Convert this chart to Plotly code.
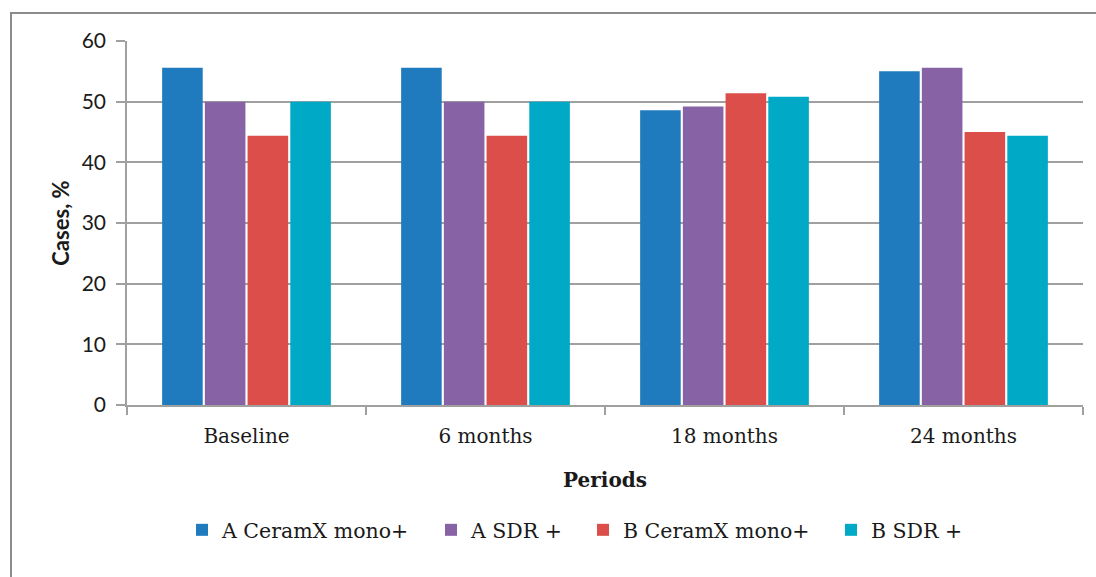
import plotly.graph_objects as go

periods = ["Baseline", "6 months", "18 months", "24 months"]
series_names = ["A CeramX mono+", "A SDR +", "B CeramX mono+", "B SDR +"]
a_ceramx = [55.6, 55.6, 48.6, 55.0]
a_sdr = [50.0, 50.0, 49.2, 55.6]
b_ceramx = [44.4, 44.4, 51.4, 45.0]
b_sdr = [50.0, 50.0, 50.8, 44.4]
y_ticks = [0, 10, 20, 30, 40, 50, 60]

colors = ["#1F7BBE", "#8763A5", "#DB4E4A", "#00AAC6"]
values = [a_ceramx, a_sdr, b_ceramx, b_sdr]

# plot area in pixels
L, R, T, B = 127, 13, 41, 172
W, H = 1096, 577
PW, PH = W - L - R, H - T - B


def px_x(px):
    return (px - L) / PW


def px_y(py):
    return (T + PH - py) / PH


serif = "DejaVu Serif"
sans = "Lato"

fig = go.Figure()
legend_ids = ["legend", "legend2", "legend3", "legend4"]
for name, vals, col, lg in zip(series_names, values, colors, legend_ids):
    fig.add_trace(go.Bar(
        x=periods, y=vals, name=name,
        marker=dict(color=col, line=dict(width=0)),
        legend=lg,
    ))

legend_text_px = [221, 470, 622, 870]
leg_common = dict(orientation="h", yanchor="middle", xanchor="left",
                  font=dict(family=serif, size=20.5, color="#1a1a1a"),
                  bgcolor="rgba(0,0,0,0)", itemwidth=30)
legends = {}
for lg, tx in zip(legend_ids, legend_text_px):
    legends[lg] = dict(x=px_x(tx - 39), y=px_y(530), **leg_common)

fig.update_layout(
    width=W, height=H,
    margin=dict(l=L, r=R, t=T, b=B, autoexpand=False),
    paper_bgcolor="white", plot_bgcolor="white",
    barmode="group", bargap=0.285, bargroupgap=0.05,
    showlegend=True,
    **legends,
    xaxis=dict(
        showline=True, linecolor="#a0a0a0", linewidth=1.5,
        ticks="outside", tickson="boundaries", ticklen=8, tickcolor="#a0a0a0", tickwidth=1.5,
        tickfont=dict(family=serif, size=20, color="#1a1a1a"),
        ticklabelstandoff=12,
        title=dict(text="<b>Periods</b>", font=dict(family=serif, size=20, color="#1a1a1a"), standoff=26),
        showgrid=False,
    ),
    yaxis=dict(
        range=[0, 60], tickvals=y_ticks,
        showline=True, linecolor="#a0a0a0", linewidth=1.5,
        ticks="outside", ticklen=9, tickcolor="#a0a0a0", tickwidth=1.5,
        showgrid=True, gridcolor="#a0a0a0", gridwidth=1.5,
        zeroline=False,
        tickfont=dict(family=sans, size=21, color="#1a1a1a"),
        ticklabelstandoff=6,
        title=dict(text="<b>Cases, %</b>", font=dict(family=sans, size=22, color="#1a1a1a"), standoff=6),
    ),
    shapes=[dict(
        type="rect", xref="paper", yref="paper",
        x0=px_x(11), x1=px_x(1115), y0=px_y(600), y1=px_y(13),
        line=dict(color="#8c8c8c", width=2), fillcolor="rgba(0,0,0,0)", layer="below",
    )],
)

fig.write_html("out.html", config={"displayModeBar": False},
               post_script="document.body.style.margin='0';document.body.style.overflow='hidden';")
